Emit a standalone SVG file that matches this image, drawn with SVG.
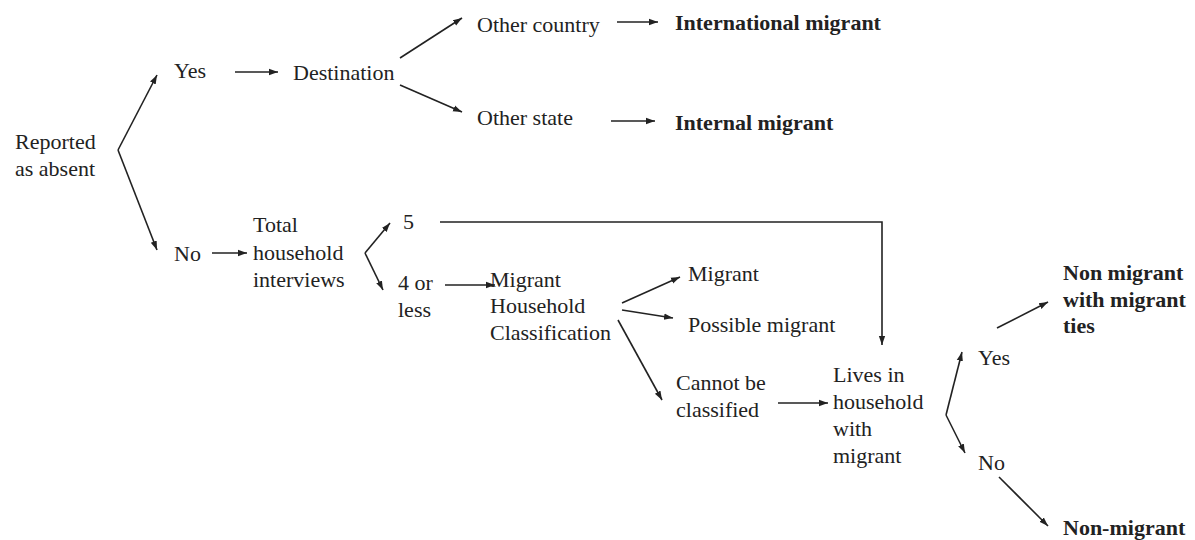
<svg xmlns="http://www.w3.org/2000/svg" width="1195" height="540" viewBox="0 0 1195 540">
<defs>
<marker id="ah" viewBox="0 0 10 10" refX="10" refY="5" markerWidth="9" markerHeight="9" markerUnits="userSpaceOnUse" orient="auto">
<path d="M0,1.5 L10,5 L0,8.5 Z" fill="#222"/>
</marker>
<style>
text{font-family:'Liberation Serif','Times New Roman','DejaVu Serif',serif;font-size:22px;fill:#222}
.b{font-weight:bold}
.c{fill:none;stroke:#222;stroke-width:1.6}
.a{marker-end:url(#ah)}
</style>
</defs>
<rect width="1195" height="540" fill="#fff"/>
<g id="connectors">
<line class="c a" x1="118" y1="150" x2="157" y2="75"/>
<line class="c a" x1="118" y1="150" x2="157" y2="250"/>
<line class="c a" x1="235" y1="72" x2="278" y2="72"/>
<line class="c a" x1="400" y1="58" x2="462" y2="18"/>
<line class="c a" x1="400" y1="85" x2="462" y2="112"/>
<line class="c a" x1="617" y1="22" x2="658" y2="22"/>
<line class="c a" x1="611" y1="121" x2="655" y2="121"/>
<line class="c a" x1="212" y1="253" x2="247" y2="253"/>
<line class="c a" x1="365" y1="253" x2="390" y2="223"/>
<line class="c a" x1="365" y1="253" x2="383" y2="290"/>
<polyline class="c a" points="440,222 882,222 882,345"/>
<line class="c a" x1="445" y1="285" x2="495" y2="285"/>
<line class="c a" x1="622" y1="303" x2="680" y2="277"/>
<line class="c a" x1="622" y1="310" x2="673" y2="318"/>
<line class="c a" x1="618" y1="320" x2="662" y2="400"/>
<line class="c a" x1="778" y1="403" x2="828" y2="403"/>
<line class="c a" x1="946" y1="415" x2="962" y2="352"/>
<line class="c a" x1="946" y1="415" x2="965" y2="453"/>
<line class="c a" x1="997" y1="328" x2="1048" y2="302"/>
<line class="c a" x1="999" y1="477" x2="1048" y2="526"/>
</g>
<g font-family="Liberation Serif, DejaVu Serif, serif">
<g id="reported"><text x="15" y="149">Reported</text><text x="15" y="176">as absent</text></g>
<g id="yes1"><text x="174" y="78">Yes</text></g>
<g id="destination"><text x="293" y="80">Destination</text></g>
<g id="other-country"><text x="477" y="32">Other country</text></g>
<g id="international"><text class="b" x="675" y="30">International migrant</text></g>
<g id="other-state"><text x="477" y="125">Other state</text></g>
<g id="internal"><text class="b" x="675" y="130">Internal migrant</text></g>
<g id="no1"><text x="174" y="261">No</text></g>
<g id="total"><text x="253" y="232">Total</text><text x="253" y="260">household</text><text x="253" y="287">interviews</text></g>
<g id="five"><text x="403" y="229">5</text></g>
<g id="four"><text x="398" y="290">4 or</text><text x="398" y="317">less</text></g>
<g id="mhc"><text x="490" y="287">Migrant</text><text x="490" y="313">Household</text><text x="490" y="340">Classification</text></g>
<g id="migrant"><text x="688" y="281">Migrant</text></g>
<g id="possible"><text x="688" y="332">Possible migrant</text></g>
<g id="cannot"><text x="676" y="390">Cannot be</text><text x="676" y="417">classified</text></g>
<g id="lives"><text x="833" y="382">Lives in</text><text x="833" y="409">household</text><text x="833" y="436">with</text><text x="833" y="463">migrant</text></g>
<g id="yes2"><text x="978" y="365">Yes</text></g>
<g id="no2"><text x="978" y="470">No</text></g>
<g id="nonmig-ties"><text class="b" x="1063" y="280">Non migrant</text><text class="b" x="1063" y="307">with migrant</text><text class="b" x="1063" y="333">ties</text></g>
<g id="nonmig"><text class="b" x="1063" y="535">Non-migrant</text></g>
</g>
</svg>
